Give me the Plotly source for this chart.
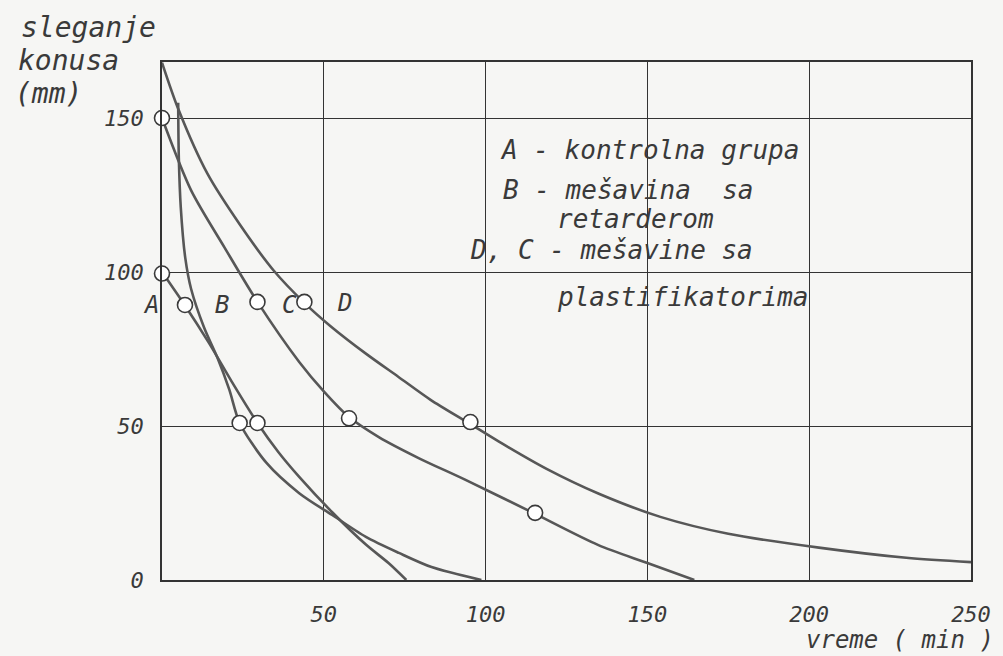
import plotly.graph_objects as go

# ---- data ----
A_t = [0, 7, 14.5, 21.5, 29.5, 36, 42.4, 52.6, 63, 70, 75.5]
A_v = [100, 89.3, 77, 64.5, 51, 41.5, 33.5, 22, 11.5, 5.5, 0]

B_t = [5, 5.2, 5.8, 7.2, 9, 13, 17.2, 20.8, 24, 32.3, 42.4, 52.6, 63, 73.2, 83.3, 98.7]
B_v = [155, 137, 121, 104.5, 94.5, 82, 72, 61.8, 51, 38, 28.2, 21.1, 14, 8.8, 4.2, 0]

C_t = [0, 9, 19.3, 29.5, 42.4, 50.2, 57.8, 67, 79.3, 93.8, 114.1, 134.7, 150, 164.5]
C_v = [150, 126.5, 108, 90.3, 70.8, 61, 52.9, 46.4, 39.6, 32.5, 22.1, 11.4, 5.5, 0]

D_t = [0, 5, 14, 24, 34.5, 44, 52, 63, 73, 83, 94.7, 104, 119, 135, 154, 175, 203, 230, 250]
D_v = [168, 153, 132, 115.5, 100.5, 90, 82.5, 73.5, 66, 58.5, 51, 45, 36, 28, 20.5, 15, 10.5, 7.2, 5.8]

A_mark_t = [0, 7.1, 29.5]
A_mark_v = [99.5, 89.3, 51]
B_mark_t = [24]
B_mark_v = [51]
C_mark_t = [0, 29.5, 57.8, 115.3]
C_mark_v = [150, 90.3, 52.5, 21.8]
D_mark_t = [44, 95.3]
D_mark_v = [90.3, 51.3]

x_ticks = [50, 100, 150, 200, 250]
y_ticks = [0, 50, 100, 150]
x_range = [0, 250]
y_range = [0, 168.2]

curve_names = ["A", "B", "C", "D"]
legend_lines = ["A - kontrolna grupa", "B - mešavina  sa", "retarderom",
                "D, C - mešavine sa", "plastifikatorima"]
y_title_lines = ["sleganje", "konusa", "(mm)"]
x_title = "vreme ( min )"

# ---- styling ----
INK = "#3a3a3a"
CURVE = "#575757"
BG = "#f6f6f4"
FONT = "DejaVu Sans Mono"

# plot area in pixels: x 162..975, y 62..580
def px2paper(px, py):
    return (px - 162) / 813, (580 - py) / 518

fig = go.Figure()
for t, v in [(A_t, A_v), (B_t, B_v), (C_t, C_v), (D_t, D_v)]:
    fig.add_trace(go.Scatter(x=t, y=v, mode="lines",
                             line=dict(color=CURVE, width=2.6, shape="spline", smoothing=0.8),
                             showlegend=False, hoverinfo="skip", cliponaxis=False))

mx = A_mark_t + B_mark_t + C_mark_t + D_mark_t
my = A_mark_v + B_mark_v + C_mark_v + D_mark_v
fig.add_trace(go.Scatter(x=mx, y=my, mode="markers",
                         marker=dict(symbol="circle", size=15, color="white",
                                     line=dict(color=INK, width=1.6)),
                         showlegend=False, cliponaxis=False))

tfont = dict(family=FONT, size=22, color=INK, style="italic")

# curve labels (pixel positions of the hand lettering)
label_px = {"A": (141, 305), "B": (213, 305), "C": (281, 305), "D": (336, 303)}
for n in curve_names:
    x, y = px2paper(*label_px[n])
    fig.add_annotation(x=x, y=y, xref="paper", yref="paper", text=n, showarrow=False,
                       font=dict(family=FONT, size=24, color=INK, style="italic"))

# legend text block
leg_pos = [(500, 150), (503, 190), (557, 219), (470, 250), (557, 297)]
for txt, (px, py) in zip(legend_lines, leg_pos):
    x, y = px2paper(px, py)
    fig.add_annotation(x=x, y=y, xref="paper", yref="paper",
                       xanchor="left", yanchor="middle", text=txt, showarrow=False,
                       font=dict(family=FONT, size=26, color=INK, style="italic"))

# y-axis title (three hand-lettered lines)
yt_pos = [(18, 28), (15, 60), (12, 93)]
for txt, (px, py) in zip(y_title_lines, yt_pos):
    x, y = px2paper(px, py)
    fig.add_annotation(x=x, y=y, xref="paper", yref="paper",
                       xanchor="left", yanchor="middle", text=txt, showarrow=False,
                       font=dict(family=FONT, size=28, color=INK, style="italic"))

# x-axis title
x, y = px2paper(1000, 640)
fig.add_annotation(x=x, y=y, xref="paper", yref="paper",
                   xanchor="right", yanchor="middle",
                   text=x_title, showarrow=False,
                   font=dict(family=FONT, size=24, color=INK, style="italic"))

axis_common = dict(showgrid=True, gridcolor="#333333", gridwidth=1,
                   showline=True, linecolor="#333333", linewidth=1.5, mirror=True,
                   zeroline=False, ticks="", tickfont=tfont)

fig.update_xaxes(range=x_range, tickvals=x_ticks, ticklabelstandoff=14, **axis_common)
fig.update_yaxes(range=y_range, tickvals=y_ticks, ticklabelstandoff=12, **axis_common)

fig.update_layout(width=1003, height=656,
                  margin=dict(l=162, r=28, t=62, b=76),
                  paper_bgcolor=BG, plot_bgcolor=BG,
                  showlegend=False)

fig.write_html("out.html")
